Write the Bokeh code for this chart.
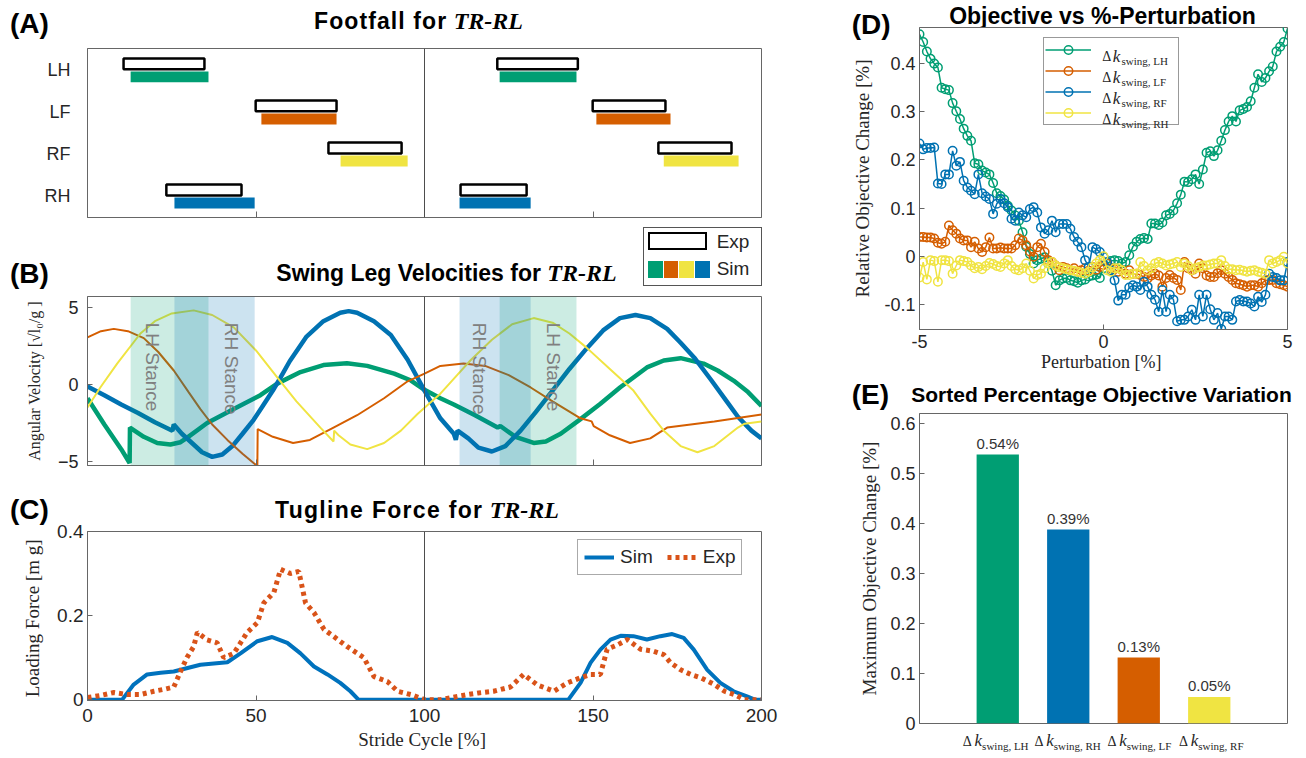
import numpy as np
from bokeh.plotting import figure
from bokeh.layouts import row, column
from bokeh.models import (Label, Legend, LegendItem, Span, Range1d, FixedTicker,
                          BoxAnnotation, ColumnDataSource, Div)
from bokeh.core.properties import value
from bokeh.embed import file_html
from bokeh.resources import INLINE

GREEN, ORANGE, YELLOW, BLUE = "#009E73", "#D55E00", "#F0E442", "#0072B2"
AX = "#666666"
TXT = "#262626"
SANS = "Liberation Sans"
SERIF = "Liberation Serif"

# ---------------- Panel A : footfall intervals [% stride] ----------------
legs = ["LH", "LF", "RF", "RH"]
leg_rows = [4, 3, 2, 1]
leg_colors = [GREEN, ORANGE, YELLOW, BLUE]
exp_start = [10.7, 49.9, 71.5, 23.4, 121.6, 149.9, 169.4, 110.7]
exp_end = [34.7, 73.9, 93.2, 45.7, 145.5, 171.5, 191.1, 130.3]
sim_start = [12.8, 51.6, 75.1, 25.8, 122.3, 151.0, 171.0, 110.4]
sim_end = [35.9, 73.9, 95.0, 49.6, 145.1, 173.0, 193.2, 131.5]

# ---------------- Panel B : swing leg angular velocities ----------------
vel_lh_x = [0, 5, 10, 12.5, 12.6, 16.7, 20.7, 24.6, 27.6, 29.6, 35.5, 43.4, 51.3, 56.3, 63.2, 70, 77,
            83, 91, 96, 100, 104.7, 108.7, 115, 121.7, 122.5, 127, 132.4, 136, 140.4, 146, 152.2, 158,
            166, 171, 176, 182.8, 187, 191.7, 196, 200]
vel_lh_y = [-0.9, -2.6, -4.2, -5.1, -2.8, -3.4, -3.8, -3.9, -3.75, -3.45, -2.5, -1.6, -0.7, 0.05, 0.8,
            1.25, 1.37, 1.2, 0.7, 0.25, -0.35, -0.9, -1.3, -2.0, -2.8, -2.7, -3.4, -3.8, -3.7, -3.2,
            -2.3, -1.25, -0.2, 1.1, 1.55, 1.7, 1.35, 0.9, 0.25, -0.5, -1.4]
vel_rf_x = [0, 5, 10, 15, 20, 25.2, 25.6, 28, 31, 34, 37, 40, 43, 46, 49.3, 52, 55, 57.3, 60, 65, 70,
            75, 77.5, 80, 85, 90, 95, 100, 104.7, 108.7, 109.3, 109.8, 113, 116, 120, 124, 128.5, 133,
            138, 143, 148, 153, 158, 162.6, 167, 172, 176, 180, 185, 190, 193, 197, 200]
vel_rf_y = [-0.13, -0.7, -1.3, -1.85, -2.45, -3.0, -2.6, -3.2, -3.8, -4.4, -4.7, -4.55, -4.0, -3.2,
            -2.3, -1.4, -0.4, 0.45, 1.5, 3.1, 4.1, 4.65, 4.75, 4.65, 4.1, 3.2, 1.6, -0.4, -2.2, -3.2,
            -3.6, -3.0, -3.5, -4.1, -4.35, -4.0, -3.0, -1.8, -0.4, 1.0, 2.3, 3.5, 4.3, 4.5, 4.3, 3.6,
            2.7, 1.75, 0.3, -1.2, -2.1, -3.0, -3.5]
vel_lf_x = [0, 4, 7.8, 12, 16.7, 21, 25.6, 30, 33.5, 37, 41.5, 46, 50.4, 50.5, 55, 61, 66, 73, 80,
            88, 95, 100, 104.7, 111.6, 118, 125, 131.5, 138, 146.3, 149.6, 150.2, 155, 161, 167, 172,
            186, 200]
vel_lf_y = [3.05, 3.45, 3.6, 3.45, 3.0, 2.1, 0.9, -0.5, -1.6, -2.6, -3.6, -4.5, -5.3, -2.9, -3.4,
            -3.8, -3.6, -2.8, -2.0, -0.9, 0.2, 0.7, 1.2, 1.35, 1.2, 0.6, -0.2, -1.1, -2.2, -2.4, -2.7,
            -3.3, -3.8, -3.5, -2.8, -2.4, -1.95]
vel_rh_x = [0, 3.9, 8.8, 15.7, 20, 25, 31.5, 37, 43.4, 50, 56.3, 62, 69.1, 73, 73.2, 74.5, 78, 83,
            88, 93, 98, 104.7, 108, 113.6, 120, 126, 132.4, 138, 143, 148, 155, 162, 167, 171, 176,
            181, 186, 193, 195, 200]
vel_rh_y = [-1.5, -0.17, 1.35, 3.3, 4.1, 4.6, 4.8, 4.5, 3.7, 2.2, 0.45, -1.1, -2.8, -3.7, -3.0, -3.3,
            -3.9, -4.2, -3.8, -3.0, -1.9, -0.6, 0.2, 1.55, 2.9, 3.9, 4.3, 4.0, 3.3, 2.4, 1.0, -0.4,
            -1.9, -3.0, -4.0, -4.4, -4.0, -2.8, -2.55, -2.4]

# ---------------- Panel C : tugline force ----------------
force_sim_x = [0, 10.3, 13.7, 17.7, 21.7, 25.6, 33.5, 41.5, 45.4, 50.4, 54.8, 59.3, 63.2, 67.2, 71.2,
               75, 78, 80.4, 142.7, 146.3, 149.3, 152.2, 155.2, 158.2, 162, 166, 170, 173.5, 176.9,
               179.9, 183.9, 187.8, 191.7, 195.7, 198, 200]
force_sim_y = [0, 0, 0.036, 0.06, 0.064, 0.067, 0.083, 0.089, 0.11, 0.139, 0.149, 0.135, 0.11, 0.079,
               0.06, 0.04, 0.02, 0, 0, 0.04, 0.088, 0.119, 0.143, 0.152, 0.151, 0.143, 0.151, 0.156,
               0.147, 0.119, 0.071, 0.04, 0.02, 0.008, 0, 0]
force_exp_x = [0, 4, 7.8, 12, 15.6, 19.7, 23, 25.6, 27.6, 29.5, 31.5, 32.6, 35.5, 38.5, 40.4, 43.4,
               47.4, 50.4, 52.3, 55.3, 57.3, 60.2, 62.7, 64.7, 67.2, 70.2, 73.1, 77.1, 82, 85, 89, 92,
               96, 100, 104.7, 108, 112.7, 116, 120.5, 125.5, 129.4, 133.5, 138.4, 142.4, 146.3, 149.3,
               152.2, 154.2, 157.2, 160.2, 164.1, 168, 171, 173, 176, 179, 182, 186, 189, 192, 195, 200]
force_exp_y = [0.005, 0.01, 0.017, 0.012, 0.012, 0.02, 0.025, 0.03, 0.067, 0.1, 0.126, 0.16, 0.142,
               0.135, 0.10, 0.11, 0.16, 0.183, 0.23, 0.255, 0.31, 0.30, 0.305, 0.23, 0.207, 0.167, 0.15,
               0.126, 0.10, 0.055, 0.043, 0.02, 0.012, 0, 0, 0.005, 0.012, 0.016, 0.02, 0.03, 0.06,
               0.035, 0.02, 0.04, 0.052, 0.06, 0.06, 0.12, 0.13, 0.143, 0.12, 0.115, 0.107, 0.088,
               0.071, 0.06, 0.052, 0.036, 0.02, 0.012, 0, 0]

# ---------------- Panel D : objective vs perturbation ----------------
perturb = [round(-5 + 0.1 * i, 1) for i in range(101)]
obj_lh = [0.461, 0.445, 0.425, 0.410, 0.400, 0.392, 0.350, 0.347, 0.345, 0.318,
          0.301, 0.285, 0.265, 0.250, 0.240, 0.193, 0.191, 0.178, 0.174, 0.170,
          0.152, 0.131, 0.125, 0.118, 0.105, 0.095, 0.085, 0.074, 0.050, 0.020,
          0.005, -0.015, -0.008, -0.005, -0.002, -0.015, -0.030, -0.060, -0.050, -0.046,
          -0.045, -0.050, -0.052, -0.055, -0.050, -0.048, -0.042, -0.040, -0.038, -0.045,
          -0.025, -0.015, -0.010, -0.008, -0.010, -0.015, -0.012, 0.002, 0.020, 0.030,
          0.036, 0.038, 0.036, 0.068, 0.068, 0.065, 0.070, 0.085, 0.088, 0.095,
          0.110, 0.128, 0.155, 0.154, 0.160, 0.170, 0.150, 0.180, 0.215, 0.218,
          0.208, 0.220, 0.240, 0.262, 0.280, 0.291, 0.280, 0.303, 0.306, 0.310,
          0.322, 0.350, 0.378, 0.362, 0.370, 0.384, 0.394, 0.425, 0.435, 0.445,
          0.473]
obj_lf = [0.040, 0.040, 0.039, 0.039, 0.037, 0.028, 0.026, 0.030, 0.064, 0.054,
          0.047, 0.037, 0.033, 0.033, 0.019, 0.030, 0.016, 0.009, 0.019, 0.039,
          0.016, 0.016, 0.018, 0.016, 0.016, 0.016, 0.023, 0.037, 0.033, 0.023,
          0.010, -0.001, 0.019, 0.026, 0.009, -0.008, -0.012, -0.019, -0.029, -0.022,
          -0.025, -0.029, -0.025, -0.032, -0.029, -0.025, -0.030, -0.022, -0.028, -0.022,
          -0.018, -0.015, -0.025, -0.027, -0.032, -0.029, -0.036, -0.029, -0.036, -0.036,
          -0.039, -0.043, -0.046, -0.040, -0.036, -0.040, -0.063, -0.045, -0.039, -0.045,
          -0.049, -0.070, -0.012, -0.025, -0.029, -0.036, -0.015, -0.025, -0.040, -0.043,
          -0.043, -0.035, -0.029, -0.036, -0.043, -0.049, -0.056, -0.058, -0.060, -0.063,
          -0.060, -0.060, -0.063, -0.056, -0.050, -0.049, -0.049, -0.056, -0.058, -0.060,
          -0.063]
obj_rf = [0.234, 0.222, 0.225, 0.225, 0.226, 0.151, 0.150, 0.170, 0.170, 0.219,
          0.188, 0.196, 0.157, 0.143, 0.136, 0.129, 0.170, 0.131, 0.124, 0.119,
          0.088, 0.109, 0.119, 0.110, 0.102, 0.078, 0.074, 0.091, 0.085, 0.081,
          0.098, 0.102, 0.091, 0.060, 0.047, 0.054, 0.074, 0.050, 0.067, 0.067,
          0.067, 0.057, 0.040, 0.030, 0.019, -0.008, -0.022, 0.019, 0.015, 0.009,
          -0.001, -0.012, -0.029, -0.050, -0.092, -0.080, -0.080, -0.065, -0.060, -0.063,
          -0.070, -0.053, -0.063, -0.080, -0.090, -0.115, -0.070, -0.115, -0.080, -0.090,
          -0.135, -0.132, -0.132, -0.125, -0.111, -0.132, -0.080, -0.125, -0.080, -0.110,
          -0.132, -0.118, -0.151, -0.125, -0.125, -0.132, -0.094, -0.091, -0.094, -0.094,
          -0.098, -0.104, -0.084, -0.095, -0.080, -0.036, -0.043, -0.045, -0.050, -0.050,
          -0.012]
obj_rh = [-0.044, -0.012, -0.048, -0.008, -0.010, -0.053, -0.008, -0.008, -0.010, -0.036,
          -0.019, -0.008, -0.010, -0.012, -0.019, -0.025, -0.022, -0.027, -0.020, -0.014,
          -0.016, -0.020, -0.022, -0.015, -0.008, -0.020, -0.027, -0.029, -0.025, -0.015,
          -0.030, -0.046, -0.039, -0.036, -0.025, -0.015, -0.012, -0.019, -0.023, -0.025,
          -0.027, -0.029, -0.030, -0.032, -0.034, -0.036, -0.032, -0.023, -0.015, -0.008,
          0.000, -0.029, -0.032, -0.025, -0.025, -0.029, -0.039, -0.039, -0.036, -0.036,
          -0.012, -0.020, -0.029, -0.025, -0.015, -0.012, -0.015, -0.019, -0.017, -0.015,
          -0.012, -0.022, -0.015, -0.020, -0.029, -0.025, -0.022, -0.019, -0.019, -0.017,
          -0.015, -0.015, -0.008, -0.020, -0.027, -0.027, -0.029, -0.028, -0.030, -0.032,
          -0.030, -0.029, -0.032, -0.034, -0.036, -0.008, -0.015, -0.012, -0.008, -0.001,
          -0.015]

# ---------------- Panel E : sorted max objective change ----------------
e_legs = ["LH", "RH", "LF", "RF"]
e_values = [0.538, 0.388, 0.132, 0.053]
e_colors = [GREEN, BLUE, ORANGE, YELLOW]


def make_fig(w, h, xr, yr, l, r, t, b):
    p = figure(width=w, height=h, x_range=xr, y_range=yr, output_backend="svg",
               toolbar_location=None, title=None, min_border_left=l, min_border_right=r,
               min_border_top=t, min_border_bottom=b)
    p.background_fill_color = "white"
    p.border_fill_color = None
    p.outline_line_color = AX
    p.outline_line_width = 1
    p.xgrid.visible = False
    p.ygrid.visible = False
    for ax in list(p.xaxis) + list(p.yaxis):
        ax.axis_line_color = AX
        ax.major_tick_line_color = AX
        ax.major_tick_in = 5
        ax.major_tick_out = 0
        ax.minor_tick_line_color = None
        ax.major_label_text_font = SANS
        ax.major_label_text_font_size = "18px"
        ax.major_label_text_color = TXT
        ax.axis_label_text_font = SERIF
        ax.axis_label_text_font_style = "normal"
        ax.axis_label_text_color = TXT
        ax.axis_label_text_font_size = "18px"
    return p


def lab(p, x, y, text, size, font=SANS, style="normal", color="black", align="left",
        baseline="alphabetic", angle=0.0, xu="screen", yu="screen"):
    p.add_layout(Label(x=x, y=y, x_units=xu, y_units=yu, text=text, text_font=font,
                       text_font_size=f"{size}px", text_font_style=style, text_color=color,
                       text_align=align, text_baseline=baseline, angle=angle))


def minor_only_x(p, ticks):
    p.xaxis.ticker = FixedTicker(ticks=[], minor_ticks=ticks)
    p.xaxis.minor_tick_line_color = AX
    p.xaxis.minor_tick_in = 6
    p.xaxis.minor_tick_out = 0
    p.xaxis.major_label_standoff = 0


# ---------- HTML text helpers (titles / panel letters / legend A-B) ----------
ASC = {SANS: 0.8465, SERIF: 0.8375}


def txt(x, baseline, html, size, family=SANS, weight="bold", anchor="left", color="#000",
        extra=""):
    top = baseline - ASC[family] * size
    shift = {"left": "0", "center": "-50%", "right": "-100%"}[anchor]
    return (f'<div style="position:absolute;left:{x:.1f}px;top:{top:.1f}px;'
            f'transform:translateX({shift});white-space:nowrap;line-height:1;margin:0;padding:0;'
            f"font-family:'{family}';font-size:{size}px;font-weight:{weight};color:{color};{extra}\">"
            f"{html}</div>")


def box(x, y, w, h, fill, border="none"):
    return (f'<div style="position:absolute;left:{x:.1f}px;top:{y:.1f}px;width:{w:.1f}px;'
            f'height:{h:.1f}px;background:{fill};border:{border};box-sizing:border-box;"></div>')


def band(w, h, parts):
    html = (f'<div style="position:relative;width:{w}px;height:{h}px;overflow:visible;">'
            + "".join(parts) + "</div>")
    return Div(text=html, width=w, height=h, margin=0, styles={"overflow": "visible"})


def title_html(main, italic, spacing=0.0):
    return (f"<span style=\"letter-spacing:{spacing}px\">{main}</span> "
            f"<span style=\"font-family:'{SERIF}';font-style:italic;font-size:24px;\">"
            f"{italic}</span>")


color_of = dict(zip(legs, leg_colors))
row_of = dict(zip(legs, leg_rows))
bar_leg = legs + legs

# ================= Panel A =================
divA = band(780, 46, [txt(10, 33.3, "(A)", 28),
                      txt(418.5, 28.3, title_html("Footfall for", "TR-RL", 1.1), 23,
                          anchor="center")])
pA = make_fig(780, 180, Range1d(0, 200), Range1d(0.5, 4.52), 87, 19, 2, 9)
bar_row = np.array([row_of[l] for l in bar_leg], dtype=float)
srcA = ColumnDataSource(dict(exp_y=bar_row + 0.155, sim_y=bar_row - 0.155,
                             exp_l=exp_start, exp_r=exp_end, sim_l=sim_start, sim_r=sim_end,
                             color=[color_of[l] for l in bar_leg]))
pA.hbar(y="sim_y", left="sim_l", right="sim_r", height=0.26, fill_color="color",
        line_color=None, source=srcA)
pA.hbar(y="exp_y", left="exp_l", right="exp_r", height=0.26, fill_color="white",
        line_color="black", line_width=2.5, source=srcA)
minor_only_x(pA, [50, 150])
pA.yaxis.ticker = FixedTicker(ticks=leg_rows)
pA.yaxis.major_label_overrides = {r: l for r, l in zip(leg_rows, legs)}
pA.yaxis.major_tick_in = 0
pA.yaxis.major_label_text_align = "left"
pA.yaxis.major_label_standoff = 17
pA.add_layout(Span(location=100, dimension="height", line_color="#4d4d4d", line_width=1))

# ================= Panel B =================
legend_ab = [box(642.7, 0.7, 119, 59.3, "white", "1px solid #555"),
             box(647.7, 6.3, 59.6, 17.7, "white", "2.5px solid #000")]
for i, c in enumerate(leg_colors):
    legend_ab.append(box(648 + 15.65 * i, 35, 14.7, 17.3, c))
legend_ab += [txt(716.7, 22.3, "Exp", 19, weight="normal", color=TXT),
              txt(716.7, 49, "Sim", 19, weight="normal", color=TXT)]
divB = band(780, 68, [txt(10, 58, "(B)", 28),
                      txt(446.5, 54, title_html("Swing Leg Velocities for", "TR-RL"), 23,
                          anchor="center")] + legend_ab)
pB = make_fig(780, 184, Range1d(0, 200), Range1d(-5.26, 5.7), 87, 19, 2, 13)
pB.line(vel_lh_x, vel_lh_y, line_color=GREEN, line_width=4.5)
pB.line(vel_rf_x, vel_rf_y, line_color=BLUE, line_width=4.5)
pB.line(vel_lf_x, vel_lf_y, line_color=ORANGE, line_width=2)
pB.line(vel_rh_x, vel_rh_y, line_color=YELLOW, line_width=2)
stance = {}
for s, e, leg in zip(sim_start, sim_end, bar_leg):
    if leg in ("LH", "RH"):
        pB.add_layout(BoxAnnotation(left=s, right=e, fill_color=color_of[leg], fill_alpha=0.2,
                                    line_color=None))
        stance.setdefault(leg, []).append((s, e))
for k in range(2):
    for leg, other in (("LH", "RH"), ("RH", "LH")):
        a, b = stance[leg][k]
        c, d = stance[other][k]
        lo, hi = (a, min(b, c)) if a < c else (max(a, d), b)
        lab(pB, (lo + hi) / 2, 4.0, f"{leg} Stance", 19, color="#808080", align="left",
            baseline="middle", angle=-np.pi / 2, xu="data", yu="data")
minor_only_x(pB, [50, 150])
pB.yaxis.ticker = FixedTicker(ticks=[-5, 0, 5])
pB.yaxis.major_label_overrides = {-5: "\u22125", 0: "0", 5: "5"}
pB.yaxis.major_label_standoff = 9
pB.yaxis.axis_label = "Angular Velocity [\u221al\u2080/g ]"
pB.yaxis.axis_label_text_font_size = "16px"
pB.yaxis.axis_label_standoff = 12
pB.add_layout(Span(location=100, dimension="height", line_color="#4d4d4d", line_width=1))

# ================= Panel C =================
divC = band(780, 41, [txt(10, 42, "(C)", 28),
                      txt(417, 39.3, title_html("Tugline Force for", "TR-RL", 1.3), 23,
                          anchor="center")])
pC = make_fig(780, 239, Range1d(0, 200), Range1d(-0.002, 0.4), 87, 19, 12, 58)
sim_r = pC.line(force_sim_x, force_sim_y, line_color="#0072BD", line_width=4)
exp_r = pC.line(force_exp_x, force_exp_y, line_color="#D95319", line_width=5, line_dash="4 4")
pC.xaxis.ticker = FixedTicker(ticks=[0, 50, 100, 150, 200])
pC.xaxis.major_label_text_font_size = "19px"
pC.xaxis.major_label_standoff = 8
pC.xaxis.axis_label = "Stride Cycle  [%]"
pC.xaxis.axis_label_text_font_size = "19px"
pC.xaxis.axis_label_standoff = 4
pC.yaxis.ticker = FixedTicker(ticks=[0, 0.2, 0.4])
pC.yaxis.major_label_overrides = {0: "0", 0.2: "0.2", 0.4: "0.4"}
pC.yaxis.major_label_text_font_size = "19px"
pC.yaxis.major_label_standoff = 4
pC.yaxis.axis_label = "Loading Force  [m g]"
pC.yaxis.axis_label_text_font_size = "19px"
pC.yaxis.axis_label_standoff = 11
pC.add_layout(Span(location=100, dimension="height", line_color="#4d4d4d", line_width=1))
legC = Legend(items=[LegendItem(label="Sim", renderers=[sim_r]),
                     LegendItem(label="Exp", renderers=[exp_r])],
              location=(490, 125), orientation="horizontal", padding=6, spacing=14,
              glyph_width=30, glyph_height=20, label_height=20, label_standoff=6,
              label_text_font=SANS, label_text_font_size="19px", label_text_color=TXT,
              border_line_color="#555555", border_line_width=1, background_fill_alpha=1)
pC.add_layout(legC)

# ================= Panel D =================
divD = band(526, 25, [txt(71.7, 35, "(D)", 28),
                      txt(322.5, 24, "Objective vs %-Perturbation", 23, anchor="center")])
pD = make_fig(526, 353, Range1d(-5, 5), Range1d(-0.152, 0.475), 139, 19, 2, 49)
items = []
for leg, ys, c in (("LH", obj_lh, GREEN), ("LF", obj_lf, ORANGE), ("RF", obj_rf, BLUE),
                   ("RH", obj_rh, YELLOW)):
    lr = pD.line(perturb, ys, line_color=c, line_width=1.5)
    sr = pD.scatter(perturb, ys, marker="circle", size=8.5, fill_color=None, line_color=c,
                    line_width=1.5)
    items.append((leg, LegendItem(label=value(" "), renderers=[lr, sr])))
legD = Legend(items=[it for _, it in items], location=(124, 204), orientation="vertical",
              padding=1, spacing=0, glyph_width=46, glyph_height=21, label_height=21,
              label_standoff=10, label_width=76, label_text_font_size="10px",
              border_line_color="#333333", border_line_width=1, background_fill_color="white",
              background_fill_alpha=0)
pD.add_layout(legD)
for i, (leg, _) in enumerate(items):
    lab(pD, 182.7, 273.2 - 21 * i, "\u0394", 14, font=SERIF, color=TXT)
    lab(pD, 193.2, 273.2 - 21 * i, "k", 17, font=SERIF, style="italic", color=TXT)
    lab(pD, 202, 268.7 - 21 * i, f"swing, {leg}", 11, font=SERIF, color=TXT)
pD.xaxis.ticker = FixedTicker(ticks=[-5, 0, 5])
pD.xaxis.major_label_overrides = {-5: "-5", 0: "0", 5: "5"}
pD.xaxis.major_label_standoff = 5
pD.xaxis.axis_label = "Perturbation  [%]"
pD.xaxis.axis_label_standoff = 1
yt = [-0.1, 0, 0.1, 0.2, 0.3, 0.4]
pD.yaxis.ticker = FixedTicker(ticks=yt)
pD.yaxis.major_label_overrides = {t: ("0" if t == 0 else f"{t:g}") for t in yt}
pD.yaxis.major_label_standoff = 4
pD.yaxis.axis_label = "Relative Objective Change [%]"
pD.yaxis.axis_label_text_font_size = "19px"
pD.yaxis.axis_label_standoff = 8

# ================= Panel E =================
divE = band(526, 33, [txt(71.7, 27, "(E)", 28),
                      txt(321.5, 23.7, "Sorted Percentage Objective Variation", 21,
                          anchor="center")])
E_LEFT, E_RIGHT, E_W = 136, 15, 526
xrE = Range1d(-0.11, 5.11)
pE = make_fig(E_W, 324, xrE, Range1d(0, 0.62), E_LEFT, E_RIGHT, 2, 12)
e_pos = list(range(1, len(e_values) + 1))
srcE = ColumnDataSource(dict(x=e_pos, top=e_values, color=e_colors,
                             txt=[f"{v:.2f}%" for v in e_values]))
pE.vbar(x="x", top="top", width=0.6, fill_color="color", line_color=None, source=srcE)
pE.text(x="x", y="top", text="txt", source=srcE, text_align="center", text_baseline="bottom",
        y_offset=-3, text_font=value(SANS), text_font_size=value("15px"), text_color="#333333")
pE.xaxis.visible = False
ye = [0, 0.1, 0.2, 0.3, 0.4, 0.5, 0.6]
pE.yaxis.ticker = FixedTicker(ticks=ye)
pE.yaxis.major_label_overrides = {t: ("0" if t == 0 else f"{t:g}") for t in ye}
pE.yaxis.major_label_standoff = 4
pE.yaxis.axis_label = "Maximum Objective Change [%]"
pE.yaxis.axis_label_text_font_size = "19px"
pE.yaxis.axis_label_standoff = 7
# category labels of panel E, placed under each bar through the panel's x scale
frame_w = E_W - E_LEFT - E_RIGHT
tick_parts = []
for xpos, leg in zip(e_pos, e_legs):
    px = E_LEFT + (xpos - xrE.start) / (xrE.end - xrE.start) * frame_w
    tick_parts.append(txt(px, 11,
                          f"<span style=\"font-size:14px\">\u0394 </span><i>k</i>"
                          f"<span style=\"font-size:11px;vertical-align:-4px\">swing, {leg}</span>",
                          17, family=SERIF, weight="normal", anchor="center", color=TXT))
divEt = band(526, 23, tick_parts)

layout = row(column(divA, pA, divB, pB, divC, pC), column(divD, pD, divE, pE, divEt))
open("out.html", "w").write(file_html(layout, INLINE))
